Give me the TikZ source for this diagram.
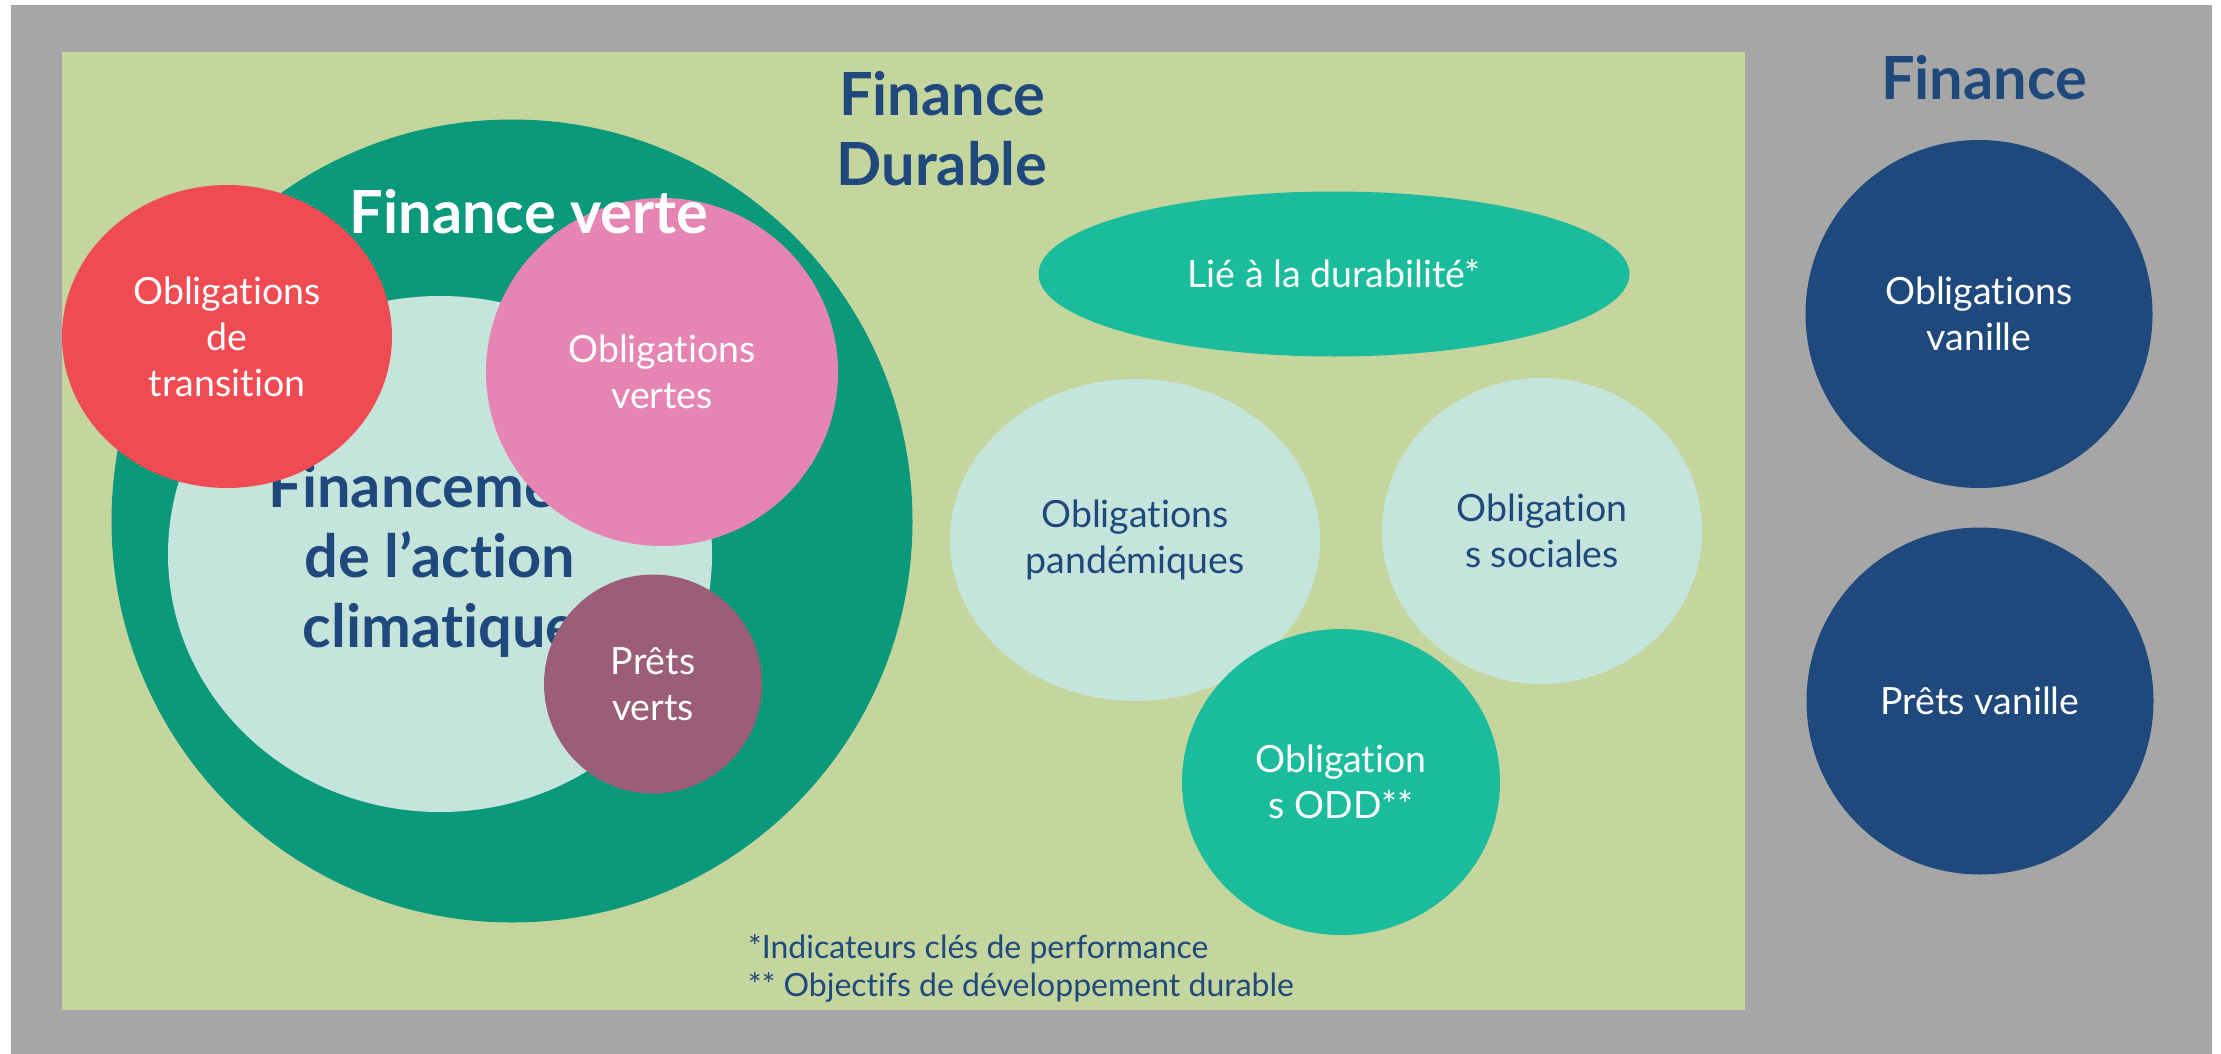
\documentclass[tikz,border=0pt]{standalone}
\usepackage{fontspec}
\setmainfont{Lato}[Ligatures=NoCommon]
\usetikzlibrary{shapes.geometric}
\definecolor{bggray}{HTML}{A6A6A6}
\definecolor{lightgreen}{HTML}{C4D69E}
\definecolor{darkgreen}{HTML}{0B997C}
\definecolor{mint}{HTML}{C5E5DC}
\definecolor{tealc}{HTML}{1ABC9C}
\definecolor{navy}{HTML}{1F497D}
\definecolor{redc}{HTML}{F04B52}
\definecolor{pinkc}{HTML}{E684B3}
\definecolor{purplec}{HTML}{9C5D77}
\begin{document}
\begin{tikzpicture}[x=1pt,y=-1pt,
  blob/.style={ellipse, inner sep=0pt, outer sep=0pt, draw=none, align=center},
  small/.style={font=\fontsize{37.5}{46}\selectfont},
  big/.style={font=\bfseries\fontsize{59.5}{70}\selectfont},
  foot/.style={font=\fontsize{32}{38}\selectfont, text=navy, inner sep=0pt, align=left}]
\useasboundingbox (0,0) rectangle (2221,1054);
\fill[white] (0,0) rectangle (2221,1054);
\fill[bggray] (11,5) rectangle (2212,1054);
\fill[lightgreen] (62,52) rectangle (1745,1010);

% titles
\node[big, text=navy, align=center, inner sep=0pt] (durable) at (942,129) {Finance\\Durable};
\node[big, text=navy, inner sep=0pt, anchor=base] (finance) at (1984,100) {Finance};

% green finance cluster
\node[blob, fill=darkgreen, minimum width=801, minimum height=803] (verte) at (512,521) {};
\node[blob, fill=mint, minimum width=544, minimum height=516] (climat) at (440,554) {};
\node[big, text=navy, align=center, inner sep=0pt] (climattxt) at (440,560) {Financement\\de l’action\\climatique};
\node[blob, fill=redc, small, text=white, minimum width=330, minimum height=303] (transition) at (227,336.5) {Obligations\\de\\transition};
\node[blob, fill=pinkc, small, text=white, minimum width=352, minimum height=348] (vertes) at (662,372) {Obligations\\vertes};
\node[blob, fill=purplec, small, text=white, minimum width=218, minimum height=219] (prets) at (653,684) {Prêts\\verts};
\node[big, text=white, inner sep=0pt, anchor=base] (vertetxt) at (529,233) {Finance verte};

% sustainable finance
\node[blob, fill=tealc, small, text=white, minimum width=591, minimum height=165] (lie) at (1334,274) {Lié à la durabilité*};
\node[blob, fill=mint, small, text=navy, minimum width=370, minimum height=322] (pand) at (1135,540) {Obligations\\pandémiques};
\node[blob, fill=mint, small, text=navy, minimum width=320, minimum height=306] (soc) at (1542,531) {Obligation\\s sociales};
\node[blob, fill=tealc, small, text=white, minimum width=318, minimum height=306] (odd) at (1341,782) {Obligation\\s ODD**};

% footnotes
\node[foot, anchor=north west] (notes) at (748,934) {*Indicateurs clés de performance\\** Objectifs de développement durable};

% vanilla finance
\node[blob, fill=navy, small, text=white, minimum width=347, minimum height=348] (vanob) at (1979,314) {Obligations\\vanille};
\node[blob, fill=navy, small, text=white, minimum width=347, minimum height=347] (vanpr) at (1980,701) {Prêts vanille};
\end{tikzpicture}
\end{document}
